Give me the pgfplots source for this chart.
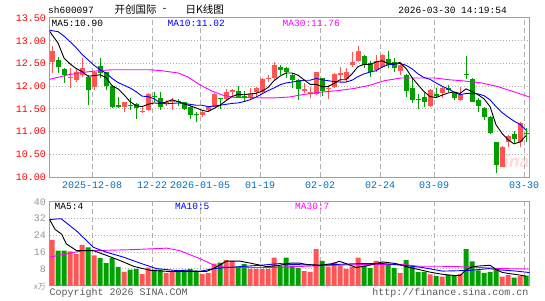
\documentclass[border=0pt]{standalone}
\usepackage{fontspec}
\setmainfont{Liberation Mono}
\newfontfamily\cjk{Noto Sans CJK SC}
\newfontfamily\sans{Liberation Sans}
\usepackage{pgfplots}
\pgfplotsset{compat=1.18}
\definecolor{cred}{RGB}{255,85,85}
\definecolor{cgreen}{RGB}{0,160,0}
\definecolor{framec}{RGB}{160,160,160}
\definecolor{gridc}{RGB}{175,175,175}
\definecolor{datec}{RGB}{0,112,192}
\definecolor{lblgray}{RGB}{150,150,150}
\definecolor{cmag}{RGB}{255,0,255}
\definecolor{cblue}{RGB}{0,0,255}
\definecolor{copyc}{RGB}{90,90,90}
\pgfplotsset{kbase/.style={scale only axis, width=480pt, xmin=-0.42, xmax=79.58,
  anchor=south west,
  axis line style={draw=framec, line width=1pt},
  major tick length=0pt,
  xmajorgrids, ymajorgrids,
  x grid style={gridc, dash pattern=on 5pt off 3pt, line width=1pt},
  y grid style={gridc, dash pattern=on 1pt off 2pt, line width=1pt},
  xtick={6.7,16.7,24.7,34.7,44.7,54.7,63.7,78.7},
  tick label style={font=\fontsize{10}{10}\selectfont},
  /pgf/number format/assume math mode=true,
  unbounded coords=jump}}
\begin{document}
\begin{tikzpicture}
\useasboundingbox (0,0) rectangle (545pt,300pt);
\fill[white] (0,0) rectangle (545pt,300pt);
\node[font=\sans\itshape\bfseries\fontsize{17}{17}\selectfont, text=red!14] at (512pt,139pt) {sina};
% ---------- price panel ----------
\begin{axis}[kbase, at={(49.5pt,123pt)}, height=159pt, ymin=10, ymax=13.5,
  xticklabels={2025-12-08,12-22,2026-01-05,01-19,02-02,02-24,03-09,03-30},
  xticklabel style={text=datec, yshift=-1pt},
  ytick={10,10.5,11,11.5,12,12.5,13,13.5},
  yticklabel={\pgfmathprintnumber[fixed,fixed zerofill,precision=2,assume math mode=true]{\tick}},
  yticklabel style={text=red}]
% red wicks
\addplot[cred, line width=1pt] coordinates {
(0,12.29)(0,12.88)(0,nan) (3,11.96)(3,12.40)(3,nan) (4,12.09)(4,12.40)(4,nan) (5,12.21)(5,12.62)(5,nan)
(7,11.92)(7,12.34)(7,nan) (12,11.44)(12,11.66)(12,nan) (15,11.40)(15,11.53)(15,nan) (16,11.46)(16,11.85)(16,nan)
(19,11.57)(19,11.70)(19,nan) (20,11.48)(20,11.74)(20,nan) (25,11.33)(25,11.48)(25,nan) (26,11.42)(26,11.55)(26,nan)
(27,11.53)(27,11.85)(27,nan) (29,11.70)(29,11.94)(29,nan) (30,11.77)(30,11.94)(30,nan) (33,11.72)(33,11.97)(33,nan)
(34,11.77)(34,11.99)(34,nan) (35,11.85)(35,12.18)(35,nan) (36,12.10)(36,12.25)(36,nan) (37,12.14)(37,12.53)(37,nan)
(42,11.85)(42,12.07)(42,nan) (43,11.74)(43,11.99)(43,nan) (44,11.81)(44,12.32)(44,nan) (46,11.72)(46,12.03)(46,nan)
(47,11.96)(47,12.29)(47,nan) (48,12.10)(48,12.43)(48,nan) (49,12.10)(49,12.40)(49,nan) (50,12.43)(50,12.76)(50,nan)
(51,12.54)(51,12.88)(51,nan) (54,12.32)(54,12.68)(54,nan) (55,12.40)(55,12.71)(55,nan) (58,12.25)(58,12.49)(58,nan)
(63,11.55)(63,11.94)(63,nan) (65,11.74)(65,11.99)(65,nan) (68,11.68)(68,11.99)(68,nan) (75,10.21)(75,10.69)(75,nan)
(76,10.67)(76,10.93)(76,nan) (78,10.67)(78,11.21)(78,nan)};
% red bodies
\addplot[cred, line width=5pt] coordinates {
(0,12.54)(0,12.77)(0,nan) (3,12.19)(3,12.21)(3,nan) (4,12.13)(4,12.31)(4,nan) (5,12.25)(5,12.40)(5,nan)
(7,11.99)(7,12.31)(7,nan) (12,11.55)(12,11.65)(12,nan) (15,11.42)(15,11.46)(15,nan) (16,11.48)(16,11.82)(16,nan)
(19,11.62)(19,11.66)(19,nan) (20,11.64)(20,11.70)(20,nan) (25,11.37)(25,11.44)(25,nan) (26,11.48)(26,11.53)(26,nan)
(27,11.55)(27,11.82)(27,nan) (29,11.72)(29,11.87)(29,nan) (30,11.88)(30,11.92)(30,nan) (33,11.74)(33,11.82)(33,nan)
(34,11.88)(34,11.96)(34,nan) (35,11.87)(35,12.15)(35,nan) (36,12.15)(36,12.19)(36,nan) (37,12.18)(37,12.46)(37,nan)
(42,11.90)(42,11.93)(42,nan) (43,11.82)(43,11.87)(43,nan) (44,11.82)(44,12.31)(44,nan) (46,11.93)(46,11.95)(46,nan)
(47,11.99)(47,12.26)(47,nan) (48,12.25)(48,12.29)(48,nan) (49,12.16)(49,12.31)(49,nan) (50,12.46)(50,12.53)(50,nan)
(51,12.56)(51,12.78)(51,nan) (54,12.36)(54,12.56)(54,nan) (55,12.43)(55,12.69)(55,nan) (58,12.34)(58,12.47)(58,nan)
(63,11.57)(63,11.92)(63,nan) (65,11.84)(65,11.96)(65,nan) (68,11.70)(68,11.81)(68,nan) (75,10.23)(75,10.67)(75,nan)
(76,10.77)(76,10.91)(76,nan) (78,10.77)(78,11.18)(78,nan)};
% green wicks
\addplot[cgreen, line width=1pt] coordinates {
(1,12.29)(1,12.65)(1,nan) (2,12.07)(2,12.40)(2,nan) (6,11.59)(6,12.24)(6,nan) (8,12.18)(8,12.62)(8,nan)
(9,11.92)(9,12.32)(9,nan) (10,11.51)(10,12.03)(10,nan) (11,11.51)(11,11.75)(11,nan) (13,11.48)(13,11.74)(13,nan)
(14,11.28)(14,11.63)(14,nan) (17,11.66)(17,11.87)(17,nan) (18,11.48)(18,11.87)(18,nan) (21,11.57)(21,11.71)(21,nan)
(22,11.48)(22,11.66)(22,nan) (23,11.28)(23,11.57)(23,nan) (24,11.20)(24,11.43)(24,nan) (28,11.50)(28,11.74)(28,nan)
(31,11.74)(31,12.01)(31,nan) (32,11.65)(32,11.90)(32,nan) (38,12.25)(38,12.47)(38,nan) (39,12.18)(39,12.43)(39,nan)
(40,11.96)(40,12.29)(40,nan) (41,11.70)(41,12.15)(41,nan) (45,11.79)(45,12.19)(45,nan) (52,12.41)(52,12.68)(52,nan)
(53,12.21)(53,12.56)(53,nan) (56,12.41)(56,12.78)(56,nan) (57,12.32)(57,12.62)(57,nan) (59,11.77)(59,12.26)(59,nan)
(60,11.63)(60,12.19)(60,nan) (61,11.50)(61,11.82)(61,nan) (62,11.55)(62,11.85)(62,nan) (64,11.74)(64,11.96)(64,nan)
(66,11.88)(66,12.02)(66,nan) (67,11.70)(67,11.88)(67,nan) (69,12.15)(69,12.66)(69,nan) (70,11.65)(70,12.18)(70,nan)
(71,11.44)(71,11.74)(71,nan) (72,11.26)(72,11.55)(72,nan) (73,10.94)(73,11.35)(73,nan) (74,10.08)(74,10.78)(74,nan)
(77,10.74)(77,11.01)(77,nan) (79,10.78)(79,11.07)(79,nan)};
% green bodies
\addplot[cgreen, line width=5pt] coordinates {
(1,12.42)(1,12.58)(1,nan) (2,12.25)(2,12.38)(2,nan) (6,11.92)(6,12.21)(6,nan) (8,12.29)(8,12.45)(8,nan)
(9,12.01)(9,12.31)(9,nan) (10,11.54)(10,12.01)(10,nan) (11,11.55)(11,11.59)(11,nan) (13,11.57)(13,11.59)(13,nan)
(14,11.52)(14,11.60)(14,nan) (17,11.76)(17,11.78)(17,nan) (18,11.55)(18,11.74)(18,nan) (21,11.65)(21,11.67)(21,nan)
(22,11.49)(22,11.64)(22,nan) (23,11.37)(23,11.55)(23,nan) (24,11.37)(24,11.39)(24,nan) (28,11.71)(28,11.73)(28,nan)
(31,11.77)(31,11.90)(31,nan) (32,11.75)(32,11.79)(32,nan) (38,12.36)(38,12.43)(38,nan) (39,12.31)(39,12.41)(39,nan)
(40,12.14)(40,12.25)(40,nan) (41,11.94)(41,12.14)(41,nan) (45,11.90)(45,12.18)(45,nan) (52,12.47)(52,12.67)(52,nan)
(53,12.32)(53,12.51)(53,nan) (56,12.47)(56,12.60)(56,nan) (57,12.40)(57,12.53)(57,nan) (59,11.90)(59,12.24)(59,nan)
(60,11.70)(60,11.97)(60,nan) (61,11.69)(61,11.71)(61,nan) (62,11.64)(62,11.76)(62,nan) (64,11.79)(64,11.82)(64,nan)
(66,11.92)(66,11.97)(66,nan) (67,11.74)(67,11.85)(67,nan) (69,12.25)(69,12.27)(69,nan) (70,11.66)(70,12.15)(70,nan)
(71,11.57)(71,11.70)(71,nan) (72,11.32)(72,11.51)(72,nan) (73,10.96)(73,11.32)(73,nan) (74,10.26)(74,10.76)(74,nan)
(77,10.84)(77,10.94)(77,nan) (79,10.94)(79,10.96)(79,nan)};
% MA30
\addplot[cmag, line width=0.9pt] coordinates {
(-0.4,12.15)(2.7,12.25)(4.9,12.30)(7.7,12.34)(9.9,12.36)(16.3,12.36)(18.2,12.34)(21,12.29)(22.7,12.20)
(24.5,12.04)(26.5,11.90)(28.5,11.80)(30.5,11.75)(37,11.74)(39.5,11.76)(42.1,11.82)(44.9,11.87)(47.6,11.90)
(50.4,11.95)(53,12.02)(55.4,12.12)(58.2,12.18)(63.8,12.18)(66.2,12.14)(68.2,12.12)(71.6,12.07)(74.3,11.99)
(77.1,11.87)(79.6,11.76)};
% MA10
\addplot[cblue, line width=0.9pt] coordinates {
(-0.4,13.23)(0,13.22)(1,13.20)(2,13.10)(3,12.98)(4,12.85)(5,12.70)(6,12.58)(7,12.46)(8,12.36)(9,12.29)
(10,12.17)(11,12.08)(12,12.02)(13,11.96)(14,11.88)(15,11.78)(16,11.77)(17,11.72)(18,11.64)(19,11.61)
(20,11.62)(21,11.63)(22,11.62)(23,11.60)(24,11.58)(25,11.58)(26,11.55)(27,11.56)(28,11.58)(29,11.60)
(30,11.62)(31,11.63)(32,11.66)(33,11.70)(34,11.76)(35,11.83)(36,11.90)(37,11.96)(38,12.03)(39,12.07)
(40,12.09)(41,12.11)(42,12.13)(43,12.13)(44,12.17)(45,12.14)(46,12.12)(47,12.10)(48,12.09)(49,12.09)
(50,12.13)(51,12.21)(52,12.27)(53,12.31)(54,12.34)(55,12.42)(56,12.47)(57,12.48)(58,12.50)(59,12.46)
(60,12.38)(61,12.27)(62,12.19)(63,12.15)(64,12.07)(65,12.00)(66,11.94)(67,11.87)(68,11.81)(69,11.84)
(70,11.84)(71,11.83)(72,11.79)(73,11.70)(74,11.55)(75,11.42)(76,11.32)(77,11.23)(78,11.16)(79,11.03)};
% MA5
\addplot[black, line width=0.9pt] coordinates {
(-0.4,13.21)(0,13.13)(1,12.95)(2,12.62)(3,12.49)(4,12.39)(5,12.32)(6,12.22)(7,12.23)(8,12.25)(9,12.19)
(10,12.01)(11,11.94)(12,11.81)(13,11.66)(14,11.57)(15,11.55)(16,11.60)(17,11.63)(18,11.62)(19,11.65)
(20,11.70)(21,11.66)(22,11.61)(23,11.57)(24,11.52)(25,11.47)(26,11.44)(27,11.51)(28,11.58)(29,11.68)
(30,11.77)(31,11.82)(32,11.81)(33,11.83)(34,11.84)(35,11.89)(36,11.97)(37,12.12)(38,12.22)(39,12.29)
(40,12.29)(41,12.24)(42,12.14)(43,12.04)(44,12.04)(45,11.99)(46,11.99)(47,12.06)(48,12.14)(49,12.14)
(50,12.27)(51,12.43)(52,12.48)(53,12.48)(54,12.53)(55,12.56)(56,12.50)(57,12.49)(58,12.52)(59,12.39)
(60,12.19)(61,12.03)(62,11.88)(63,11.77)(64,11.75)(65,11.80)(66,11.85)(67,11.87)(68,11.84)(69,11.94)
(70,11.88)(71,11.81)(72,11.72)(73,11.55)(74,11.15)(75,10.96)(76,10.82)(77,10.73)(78,10.77)(79,10.91)};
\end{axis}
% ---------- volume panel ----------
\begin{axis}[kbase, at={(49.5pt,14.5pt)}, height=83.5pt, ymin=0, ymax=40,
  xticklabels={},
  ytick={8,16,24,32,40},
  yticklabel style={text=lblgray}]
\addplot[ybar, bar width=5pt, bar shift=0pt, fill=cred, draw=none] coordinates {
(0,21.9)(3,16.4)(4,15.1)(5,19.5)(7,14.4)(12,6.5)(15,5.4)(16,8.6)(19,6.0)(20,7.0)(25,5.4)(26,6.0)(27,10.5)
(29,12.1)(30,11.8)(33,8.0)(34,8.0)(35,8.0)(36,8.0)(37,13.3)(42,6.9)(43,6.5)(44,17.4)(46,9.1)(47,11.0)
(48,9.5)(49,8.0)(50,9.1)(51,13.3)(54,11.8)(55,11.0)(58,6.0)(63,5.3)(65,4.2)(68,5.4)(75,4.2)(76,5.0)(78,4.5)};
\addplot[ybar, bar width=5pt, bar shift=0pt, fill=cgreen, draw=none] coordinates {
(1,16.7)(2,16.7)(6,18.3)(8,13.1)(9,10.7)(10,13.1)(11,8.9)(13,7.6)(14,8.0)(17,7.6)(18,7.6)(21,7.0)(22,7.6)
(23,8.0)(24,7.0)(28,11.0)(31,9.1)(32,10.3)(38,9.5)(39,13.3)(40,9.5)(41,8.3)(45,11.8)(52,9.5)(53,8.3)
(56,10.0)(57,8.3)(59,12.2)(60,9.1)(61,6.5)(62,6.5)(64,4.5)(66,5.0)(67,5.0)(69,17.4)(70,11.5)(71,7.2)
(72,6.0)(73,6.5)(74,7.5)(77,3.8)(79,4.7)};
\addplot[cmag, line width=0.9pt] coordinates {
(-0.4,13.6)(5.2,16.7)(6.9,16.7)(13.6,17.2)(19.1,17.9)(21.3,16.7)(24.7,12.8)(27.4,9.2)(30.2,8.6)(36.3,8.6)
(41.9,9.2)(47.4,9.7)(52.9,10.1)(58.4,10.1)(61.2,9.2)(65.1,9.2)(69.5,8.9)(75,8.1)(79.6,7.9)};
\addplot[cblue, line width=0.9pt] coordinates {
(-0.4,31.6)(1.5,32)(2.4,30.0)(4.1,26.1)(5.8,21.4)(6.9,18.3)(9.1,15.9)(11.9,13.6)(14.7,10.7)(17.4,8.1)
(20.2,7.3)(24.7,6.8)(26.9,8.1)(29.1,8.6)(34.7,9.7)(38,10.5)(39.7,10.1)(44.6,9.7)(47.4,10.1)(51.3,10.5)
(55.1,10.5)(58.4,9.7)(61.8,8.6)(65.1,6.9)(69.5,7.2)(72.8,8.1)(75,7.4)(77,7.0)(79.6,6.2)};
\addplot[black, line width=0.9pt] coordinates {
(-0.4,31.6)(0.5,26.9)(1.6,24.6)(2.4,19.9)(4.1,16.7)(6.9,16.7)(9.1,14.4)(11.3,12.0)(13.6,9.2)(16.3,7.3)
(19.1,6.8)(25.8,6.8)(26.9,8.1)(29.1,11.7)(31.3,11.7)(33.6,10.4)(35.8,9.0)(38,9.7)(39.7,10.7)(41.3,10.7)
(42.4,10.1)(44.6,9.7)(46.8,10.5)(47.9,11.6)(49,10.5)(50.7,8.6)(52.9,9.7)(55.1,11.3)(57.3,10.5)(59.6,8.6)
(61.2,7.6)(63,6.4)(65,5.4)(66,5.1)(67,4.8)(68,4.8)(69,7.4)(70,8.9)(71,9.3)(72,9.5)(73,9.7)(74,7.7)
(75,6.3)(76,5.8)(77,5.4)(78,5.0)(79,4.4)};
\end{axis}
% ---------- texts ----------
\node[anchor=west, inner sep=0, font=\fontsize{9.5}{10}\selectfont] at (48pt,290pt) {sh600097};
\node[anchor=west, inner sep=0, font=\cjk\fontsize{10.5}{11}\selectfont] at (114.5pt,290pt) {开创国际};
\node[anchor=center, inner sep=0, font=\fontsize{10}{10}\selectfont] at (164.5pt,290pt) {-};
\node[anchor=west, inner sep=0, font=\cjk\fontsize{10.5}{11}\selectfont] at (185.5pt,290pt) {日K线图};
\node[anchor=east, inner sep=0, font=\fontsize{9.5}{10}\selectfont] at (507pt,289.5pt) {2026-03-30 14:19:54};
\node[anchor=west, inner sep=0, font=\fontsize{9.5}{10}\selectfont] at (51.5pt,276.5pt) {MA5:10.90};
\node[anchor=west, inner sep=0, font=\fontsize{9.5}{10}\selectfont, text=cblue] at (167.5pt,276.5pt) {MA10:11.02};
\node[anchor=west, inner sep=0, font=\fontsize{9.5}{10}\selectfont, text=cmag] at (282.5pt,276.5pt) {MA30:11.76};
\node[anchor=west, inner sep=0, font=\fontsize{9.5}{10}\selectfont] at (54.5pt,94pt) {MA5:4};
\node[anchor=west, inner sep=0, font=\fontsize{9.5}{10}\selectfont, text=cblue] at (175pt,94pt) {MA10:5};
\node[anchor=west, inner sep=0, font=\fontsize{9.5}{10}\selectfont, text=cmag] at (295pt,94pt) {MA30:7};
\node[anchor=east, inner sep=0, font=\cjk\fontsize{8}{9}\selectfont, text=lblgray] at (46pt,13.5pt) {x万};
\node[anchor=west, inner sep=0, font=\fontsize{10}{10}\selectfont, text=copyc] at (49.5pt,7pt) {Copyright 2026 SINA.COM};
\node[anchor=east, inner sep=0, font=\fontsize{10}{10}\selectfont, text=copyc] at (528.5pt,7pt) {http://finance.sina.com.cn};
\end{tikzpicture}
\end{document}
